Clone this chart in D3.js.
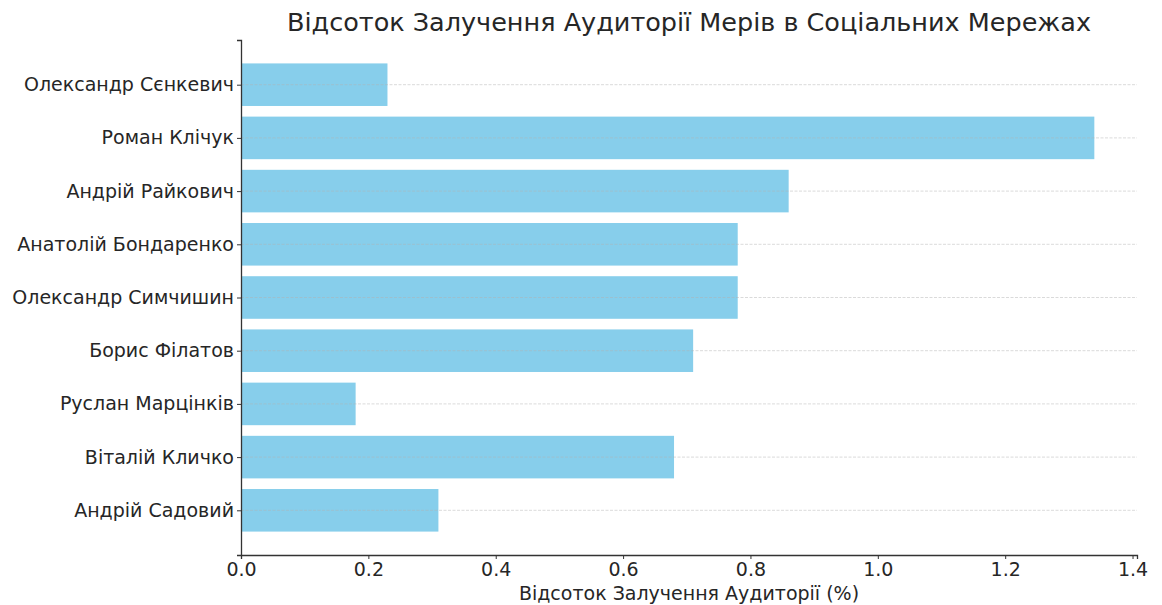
<!DOCTYPE html>
<html>
<head>
<meta charset="utf-8">
<script src="https://cdn.jsdelivr.net/npm/d3@7"></script>
<style>
  body { margin: 0; background: #fff; }
  text { font-family: "DejaVu Sans", sans-serif; fill: #262626; }
</style>
</head>
<body>
<script>
const mayors = ["Олександр Сєнкевич", "Роман Клічук", "Андрій Райкович", "Анатолій Бондаренко",
  "Олександр Симчишин", "Борис Філатов", "Руслан Марцінків", "Віталій Кличко", "Андрій Садовий"];
const engagement = [0.23, 1.34, 0.86, 0.78, 0.78, 0.71, 0.18, 0.68, 0.31];
const xTicks = [0, 0.2, 0.4, 0.6, 0.8, 1.0, 1.2, 1.4];

const width = 1162, height = 605;
const plotLeft = 241, plotRight = 1137, plotTop = 40, plotBottom = 555;

const svg = d3.select("body").append("svg")
  .attr("width", width)
  .attr("height", height);

const x = d3.scaleLinear().domain([0, d3.max(engagement) * 1.05]).range([plotLeft, plotRight]);
// matplotlib-like band: bars 0.8 wide with 5% margins
const n = mayors.length;
const yIdx = d3.scaleLinear().domain([-0.4 - 0.44, n - 1 + 0.4 + 0.44]).range([plotTop, plotBottom]);
const barH = yIdx(0.8) - yIdx(0);

// bars
svg.selectAll("rect.bar")
  .data(mayors)
  .enter()
  .append("rect")
  .attr("class", "bar")
  .attr("x", x(0))
  .attr("y", (d, i) => yIdx(i - 0.4))
  .attr("width", (d, i) => x(engagement[i]) - x(0))
  .attr("height", barH)
  .attr("fill", "#87ceeb");

// dashed grid lines at each category
svg.selectAll("line.grid")
  .data(mayors)
  .enter()
  .append("line")
  .attr("class", "grid")
  .attr("x1", plotLeft)
  .attr("x2", plotRight)
  .attr("y1", (d, i) => yIdx(i))
  .attr("y2", (d, i) => yIdx(i))
  .attr("stroke", "#b0b0b0")
  .attr("stroke-opacity", 0.6)
  .attr("stroke-width", 0.8)
  .attr("stroke-dasharray", "3,1.5");

// x axis
const xAxis = d3.axisBottom(x).tickValues(xTicks).tickFormat(d3.format(".1f")).tickSize(4).tickPadding(4);
const gx = svg.append("g")
  .attr("transform", "translate(0," + plotBottom + ")")
  .call(xAxis);
gx.select(".domain").attr("stroke", "#333").attr("stroke-width", 1.3);
gx.selectAll(".tick line").attr("stroke", "#333");
gx.selectAll(".tick text").attr("font-size", 19).style("fill", "#262626");

// y axis
const yAxis = d3.axisLeft(yIdx).tickValues(d3.range(n)).tickFormat(i => mayors[i]).tickSize(4).tickPadding(3);
const gy = svg.append("g")
  .attr("transform", "translate(" + plotLeft + ",0)")
  .call(yAxis);
gy.select(".domain").attr("stroke", "#333").attr("stroke-width", 1.3);
gy.selectAll(".tick line").attr("stroke", "#333");
gy.selectAll(".tick text").attr("font-size", 19).style("fill", "#262626");

// titles
svg.append("text")
  .attr("x", (plotLeft + plotRight) / 2)
  .attr("y", 31)
  .attr("text-anchor", "middle")
  .attr("font-size", 25.5)
  .text("Відсоток Залучення Аудиторії Мерів в Соціальних Мережах");

svg.append("text")
  .attr("x", (plotLeft + plotRight) / 2)
  .attr("y", 600)
  .attr("text-anchor", "middle")
  .attr("font-size", 19)
  .text("Відсоток Залучення Аудиторії (%)");
</script>
</body>
</html>
